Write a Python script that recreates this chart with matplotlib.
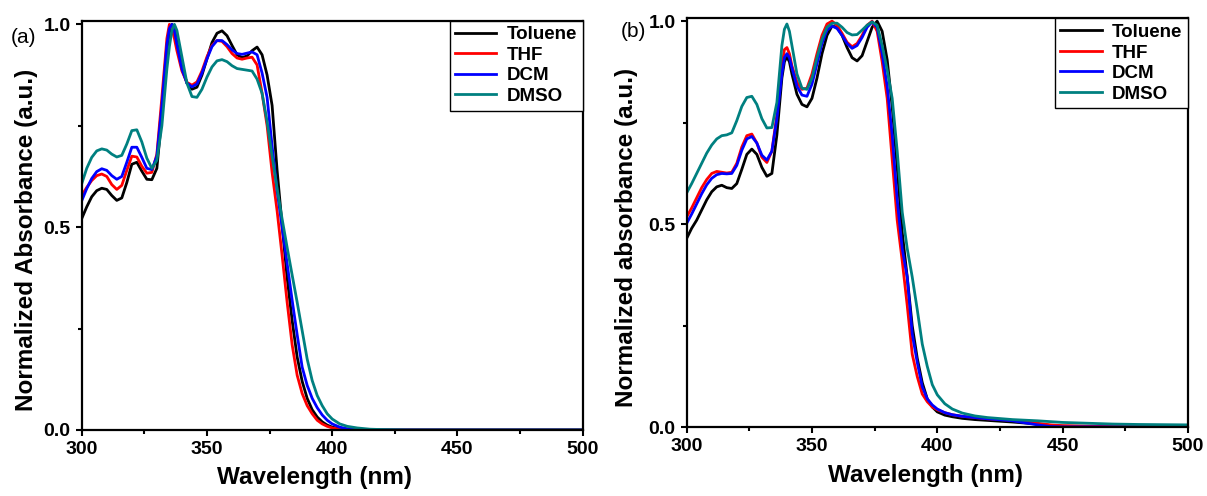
import matplotlib.pyplot as plt
from matplotlib.ticker import MultipleLocator, FormatStrFormatter

plt.rcParams['font.family'] = ['Liberation Sans', 'DejaVu Sans']
plt.rcParams['font.weight'] = 'bold'

solvents = ['Toluene', 'THF', 'DCM', 'DMSO']
colors = ['black', '#ff0000', '#0000ff', '#008080']

# panel (a)
wl_a = [300, 302, 304, 306, 308, 310, 312, 314, 316, 318,
        320, 322, 324, 326, 328, 330, 332, 334, 335, 336,
        337, 338, 340, 342, 344, 346, 348, 350, 352, 354,
        356, 358, 360, 362, 364, 366, 368, 370, 372, 374,
        376, 378, 380, 382, 384, 386, 388, 390, 392, 394,
        396, 398, 400, 403, 406, 410, 415, 420, 430, 450,
        500]
toluene_a = [0.521, 0.550, 0.575, 0.590, 0.596, 0.593, 0.578, 0.566, 0.572, 0.610,
             0.655, 0.660, 0.638, 0.618, 0.617, 0.645, 0.775, 0.935, 0.980, 1.000,
             0.990, 0.955, 0.895, 0.855, 0.840, 0.845, 0.875, 0.915, 0.955, 0.978,
             0.984, 0.972, 0.948, 0.925, 0.918, 0.922, 0.935, 0.944, 0.925, 0.875,
             0.800, 0.640, 0.505, 0.375, 0.270, 0.180, 0.120, 0.078, 0.050, 0.032,
             0.020, 0.012, 0.007, 0.003, 0.002, 0.001, 0.000, 0.000, 0.000, 0.000,
             0.000]
thf_a = [0.578, 0.598, 0.615, 0.627, 0.631, 0.625, 0.605, 0.593, 0.603, 0.640,
         0.675, 0.673, 0.650, 0.633, 0.635, 0.680, 0.820, 0.965, 1.000, 0.990,
         0.965, 0.935, 0.885, 0.857, 0.850, 0.858, 0.885, 0.920, 0.948, 0.960,
         0.958, 0.945, 0.928, 0.917, 0.914, 0.917, 0.919, 0.900, 0.830, 0.750,
         0.635, 0.540, 0.430, 0.315, 0.210, 0.135, 0.090, 0.060, 0.040, 0.024,
         0.015, 0.009, 0.005, 0.002, 0.001, 0.000, 0.000, 0.000, 0.000, 0.000,
         0.000]
dcm_a = [0.565, 0.595, 0.620, 0.637, 0.644, 0.640, 0.627, 0.618, 0.625, 0.660,
         0.697, 0.697, 0.672, 0.645, 0.642, 0.675, 0.800, 0.950, 0.990, 1.000,
         0.985, 0.950, 0.890, 0.855, 0.846, 0.853, 0.880, 0.915, 0.945, 0.960,
         0.960, 0.950, 0.937, 0.928, 0.926, 0.929, 0.932, 0.925, 0.880, 0.820,
         0.700, 0.590, 0.500, 0.410, 0.320, 0.235, 0.155, 0.110, 0.078, 0.055,
         0.037, 0.024, 0.015, 0.007, 0.003, 0.001, 0.000, 0.000, 0.000, 0.000,
         0.000]
dmso_a = [0.607, 0.645, 0.672, 0.688, 0.693, 0.690, 0.680, 0.673, 0.677, 0.705,
          0.738, 0.740, 0.710, 0.670, 0.645, 0.665, 0.750, 0.890, 0.945, 0.985,
          1.000, 0.985, 0.920, 0.855, 0.822, 0.820, 0.840, 0.870, 0.895, 0.910,
          0.913, 0.908, 0.898, 0.891, 0.889, 0.887, 0.885, 0.865, 0.830, 0.760,
          0.675, 0.595, 0.520, 0.450, 0.382, 0.315, 0.245, 0.175, 0.122, 0.085,
          0.060, 0.040, 0.027, 0.015, 0.009, 0.005, 0.002, 0.001, 0.000, 0.000,
          0.000]

# panel (b)
wl_b = [300, 302, 304, 306, 308, 310, 312, 314, 316, 318,
        320, 322, 324, 326, 328, 330, 332, 334, 336, 338,
        339, 340, 341, 342, 344, 346, 348, 350, 352, 354,
        356, 358, 360, 362, 364, 366, 368, 370, 372, 374,
        376, 378, 380, 382, 384, 386, 388, 390, 392, 394,
        396, 398, 400, 403, 406, 410, 415, 420, 430, 440,
        445, 450, 460, 470, 480, 500]
toluene_b = [0.465, 0.490, 0.510, 0.535, 0.560, 0.580, 0.592, 0.596, 0.590, 0.588,
             0.600, 0.635, 0.672, 0.685, 0.672, 0.640, 0.618, 0.625, 0.720, 0.860,
             0.900, 0.912, 0.900, 0.870, 0.820, 0.795, 0.789, 0.810, 0.860, 0.920,
             0.965, 0.988, 0.985, 0.965, 0.935, 0.910, 0.902, 0.915, 0.950, 0.985,
             1.000, 0.975, 0.905, 0.790, 0.640, 0.480, 0.370, 0.250, 0.170, 0.110,
             0.070, 0.050, 0.038, 0.030, 0.026, 0.022, 0.019, 0.017, 0.013, 0.008,
             0.005, 0.003, 0.002, 0.001, 0.001, 0.000]
thf_b = [0.518, 0.540, 0.565, 0.590, 0.610, 0.625, 0.630, 0.628, 0.626, 0.628,
         0.650, 0.690, 0.718, 0.722, 0.700, 0.665, 0.652, 0.680, 0.770, 0.890,
         0.930, 0.935, 0.920, 0.890, 0.850, 0.832, 0.835, 0.870, 0.920, 0.965,
         0.993, 1.000, 0.990, 0.970, 0.948, 0.937, 0.945, 0.965, 0.990, 1.000,
         0.975, 0.900, 0.810, 0.660, 0.510, 0.410, 0.300, 0.180, 0.125, 0.082,
         0.063, 0.050, 0.043, 0.036, 0.031, 0.027, 0.024, 0.021, 0.017, 0.010,
         0.006, 0.004, 0.003, 0.002, 0.002, 0.001]
dcm_b = [0.502, 0.525, 0.550, 0.575, 0.597, 0.613, 0.622, 0.625, 0.624, 0.625,
         0.645, 0.682, 0.710, 0.716, 0.700, 0.670, 0.658, 0.680, 0.760, 0.870,
         0.910, 0.920, 0.910, 0.885, 0.840, 0.818, 0.815, 0.845, 0.895, 0.945,
         0.978, 0.988, 0.982, 0.965, 0.945, 0.933, 0.940, 0.960, 0.985, 0.998,
         0.985, 0.920, 0.840, 0.720, 0.560, 0.440, 0.370, 0.230, 0.160, 0.100,
         0.070, 0.055, 0.045, 0.036, 0.031, 0.027, 0.024, 0.021, 0.016, 0.006,
         0.002, 0.001, 0.001, 0.001, 0.001, 0.001]
dmso_b = [0.577, 0.600, 0.625, 0.650, 0.675, 0.695, 0.710, 0.718, 0.720, 0.725,
          0.755, 0.790, 0.812, 0.815, 0.795, 0.760, 0.737, 0.738, 0.800, 0.940,
          0.980, 0.993, 0.975, 0.940, 0.870, 0.835, 0.832, 0.860, 0.910, 0.955,
          0.985, 0.995, 0.995, 0.985, 0.972, 0.966, 0.967, 0.978, 0.990, 0.998,
          0.990, 0.940, 0.880, 0.810, 0.680, 0.530, 0.440, 0.370, 0.290, 0.205,
          0.150, 0.105, 0.080, 0.058, 0.045, 0.035, 0.028, 0.024, 0.019, 0.016,
          0.014, 0.012, 0.010, 0.008, 0.007, 0.006]

fig = plt.figure(figsize=(12.07, 4.96), dpi=100)
ax_a = fig.add_axes([0.0677, 0.1331, 0.4151, 0.8252])
ax_b = fig.add_axes([0.5689, 0.1385, 0.4153, 0.8246])

panels = [
    (ax_a, wl_a, [toluene_a, thf_a, dcm_a, dmso_a], 'Normalized Absorbance (a.u.)',
     1.009, (-0.087, 0.464), (0.464, -0.088)),
    (ax_b, wl_b, [toluene_b, thf_b, dcm_b, dmso_b], 'Normalized absorbance (a.u.)',
     1.007, (-0.097, 0.463), (0.476, -0.090)),
]

for ax, wl, series, ylab, ytop, ylc, xlc in panels:
    for name, col, y in zip(solvents, colors, series):
        ax.plot(wl, y, color=col, lw=2.0, label=name)
    ax.set_xlim(300, 500)
    ax.set_ylim(0, ytop)
    ax.xaxis.set_major_locator(MultipleLocator(50))
    ax.xaxis.set_minor_locator(MultipleLocator(25))
    ax.yaxis.set_major_locator(MultipleLocator(0.5))
    ax.yaxis.set_minor_locator(MultipleLocator(0.25))
    ax.yaxis.set_major_formatter(FormatStrFormatter('%.1f'))
    ax.tick_params(which='major', direction='out', length=4.5, width=1.5, pad=3.5,
                   labelsize=14)
    ax.tick_params(which='minor', direction='out', length=3, width=1.5)
    for sp in ax.spines.values():
        sp.set_linewidth(1.6)
    ax.set_xlabel('Wavelength (nm)', fontsize=17.5, fontweight='bold')
    ax.set_ylabel(ylab, fontsize=17.5, fontweight='bold')
    ax.yaxis.set_label_coords(*ylc)
    ax.xaxis.set_label_coords(*xlc)
    leg = ax.legend(loc='upper right', bbox_to_anchor=(1, 1), borderaxespad=0,
                    fancybox=False, edgecolor='black', framealpha=1,
                    prop={'weight': 'bold', 'size': 13.5},
                    handlelength=2.2, handletextpad=0.55, labelspacing=0.18,
                    borderpad=0.3)
    leg.get_frame().set_linewidth(1.0)

fig.text(0.009, 0.925, '(a)', fontsize=15, fontweight='normal', va='center', ha='left')
fig.text(0.5145, 0.9355, '(b)', fontsize=15, fontweight='normal', va='center', ha='left')

fig.savefig('out.png', dpi=100)
